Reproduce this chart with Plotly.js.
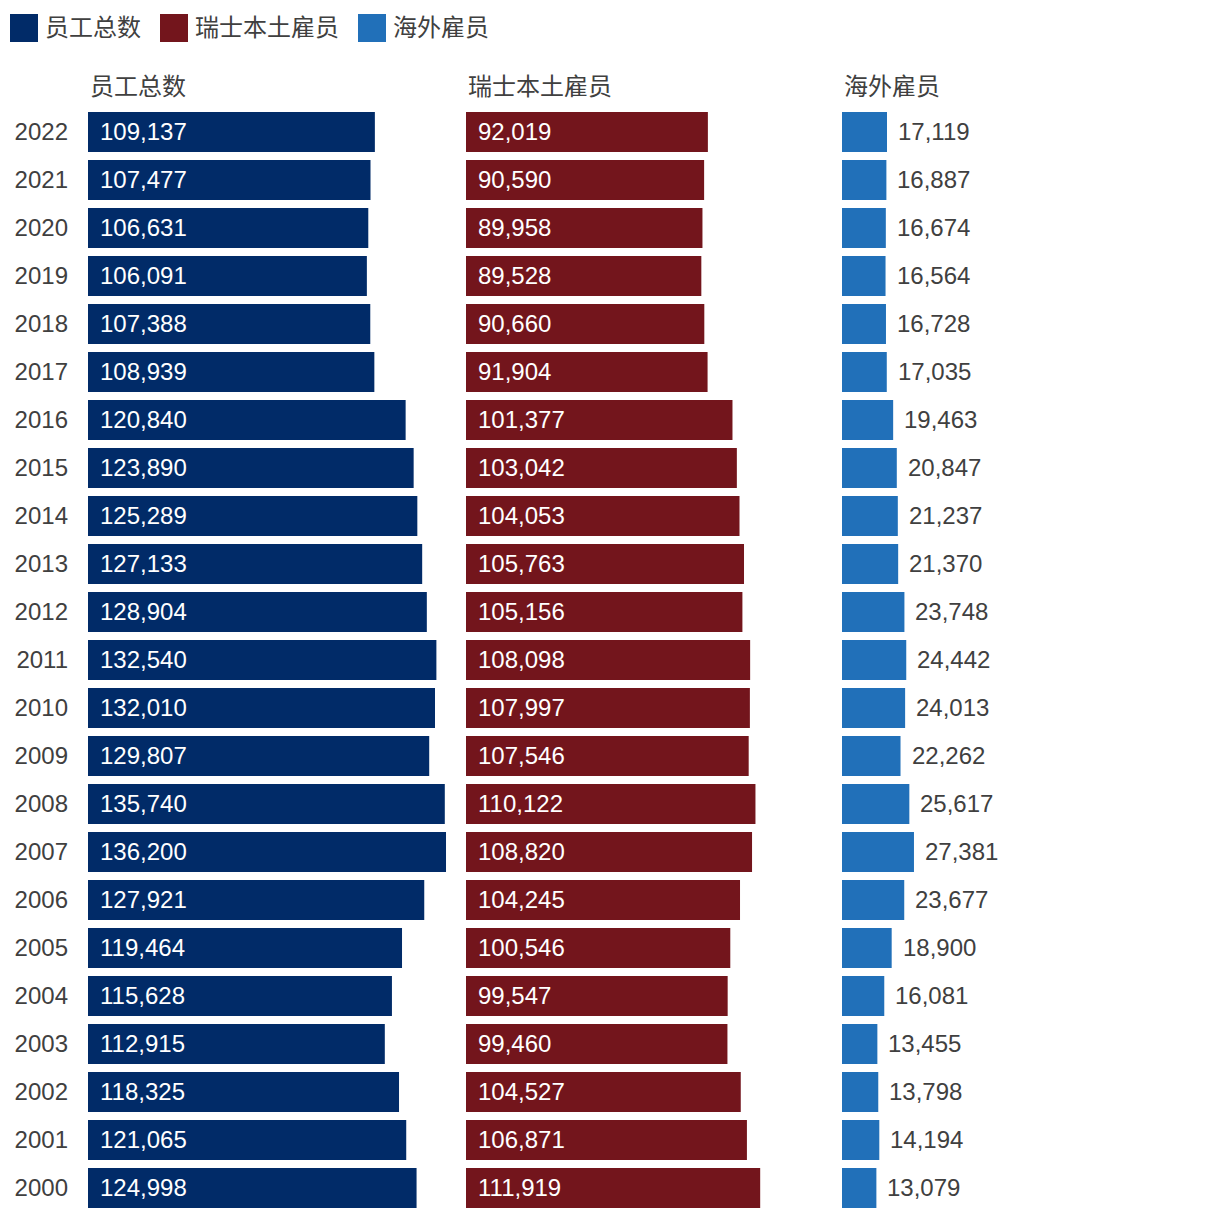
<!DOCTYPE html>
<html>
<head>
<meta charset="utf-8">
<script src="https://cdn.plot.ly/plotly-3.0.1.min.js"></script>
<style>html,body{margin:0;padding:0;background:#fff;}</style>
</head>
<body>
<div id="chart" style="width:1220px;height:1220px;"></div>
<script>
const years = ['2022','2021','2020','2019','2018','2017','2016','2015','2014','2013','2012','2011','2010','2009','2008','2007','2006','2005','2004','2003','2002','2001','2000'];
const totalEmployees = [109137,107477,106631,106091,107388,108939,120840,123890,125289,127133,128904,132540,132010,129807,135740,136200,127921,119464,115628,112915,118325,121065,124998];
const swissEmployees = [92019,90590,89958,89528,90660,91904,101377,103042,104053,105763,105156,108098,107997,107546,110122,108820,104245,100546,99547,99460,104527,106871,111919];
const foreignEmployees = [17119,16887,16674,16564,16728,17035,19463,20847,21237,21370,23748,24442,24013,22262,25617,27381,23677,18900,16081,13455,13798,14194,13079];
const seriesNames = ['员工总数','瑞士本土雇员','海外雇员'];
const seriesColors = ['#012b68','#73151c','#2170b9'];

const FONT = 'Liberation Sans, "Noto Sans CJK SC", sans-serif';
const TXT = '#404040';
const fmt = v => v.toLocaleString('en-US');

const seriesData = [totalEmployees, swissEmployees, foreignEmployees];
const axisIds = ['x','x2','x3'];

const traces = seriesData.map((vals, i) => ({
  type: 'bar',
  orientation: 'h',
  x: vals,
  y: years,
  xaxis: axisIds[i],
  yaxis: 'y',
  name: seriesNames[i],
  marker: {color: seriesColors[i]},
  hoverinfo: 'x+y',
  showlegend: false
}));

const annotations = [];
// value labels
seriesData.forEach((vals, i) => {
  vals.forEach((v, j) => {
    const inside = i < 2;
    annotations.push({
      xref: axisIds[i], yref: 'y',
      x: inside ? 0 : v, y: j,
      xanchor: 'left', yanchor: 'middle',
      xshift: inside ? 10 : 9,
      yshift: 1,
      text: fmt(v), showarrow: false,
      font: {family: FONT, size: 24, color: inside ? '#ffffff' : TXT}
    });
  });
  // panel titles
  annotations.push({
    xref: axisIds[i] + ' domain', yref: 'paper',
    x: 0, y: 1, xanchor: 'left', yanchor: 'bottom', yshift: 6,
    text: seriesNames[i], showarrow: false,
    font: {family: FONT, size: 24, color: TXT}
  });
});

// custom legend (squares + text)
const legendX = [10, 160, 358];
const shapes = [];
const W = 1220, L = 88, R = 10, T = 108, B = 8;
const pw = W - L - R, ph = 1220 - T - B;
const px = p => (p - L) / pw;
const py = p => (1220 - B - p) / ph;
legendX.forEach((lx, i) => {
  shapes.push({type: 'rect', xref: 'paper', yref: 'paper',
    x0: px(lx), x1: px(lx + 28), y0: py(42), y1: py(14),
    fillcolor: seriesColors[i], line: {width: 0}});
  annotations.push({xref: 'paper', yref: 'paper', x: px(lx + 33), y: py(28),
    xanchor: 'left', yanchor: 'middle', text: seriesNames[i], showarrow: false,
    font: {family: FONT, size: 24, color: TXT}});
});

const xCommon = {range: [0, 140000], autorange: false, showgrid: false, zeroline: false, showticklabels: false, ticks: '', fixedrange: true, anchor: 'y'};

const layout = {
  width: 1220, height: 1220,
  margin: {l: L, r: R, t: T, b: B, pad: 0},
  paper_bgcolor: '#ffffff', plot_bgcolor: '#ffffff',
  bargap: 8/48,
  font: {family: FONT, size: 24, color: TXT},
  xaxis: Object.assign({}, xCommon, {domain: [0, 368/1122]}),
  xaxis2: Object.assign({}, xCommon, {domain: [378/1122, 746/1122]}),
  xaxis3: Object.assign({}, xCommon, {domain: [754/1122, 1]}),
  yaxis: {type: 'category', categoryorder: 'array', categoryarray: years,
    range: [years.length - 0.5, -0.5], autorange: false,
    showgrid: false, zeroline: false, ticks: '', ticklabelstandoff: 19,
    tickfont: {family: FONT, size: 24, color: TXT}, fixedrange: true},
  showlegend: false,
  annotations: annotations,
  shapes: shapes
};

Plotly.newPlot('chart', traces, layout, {displayModeBar: false, staticPlot: true});
</script>
</body>
</html>
